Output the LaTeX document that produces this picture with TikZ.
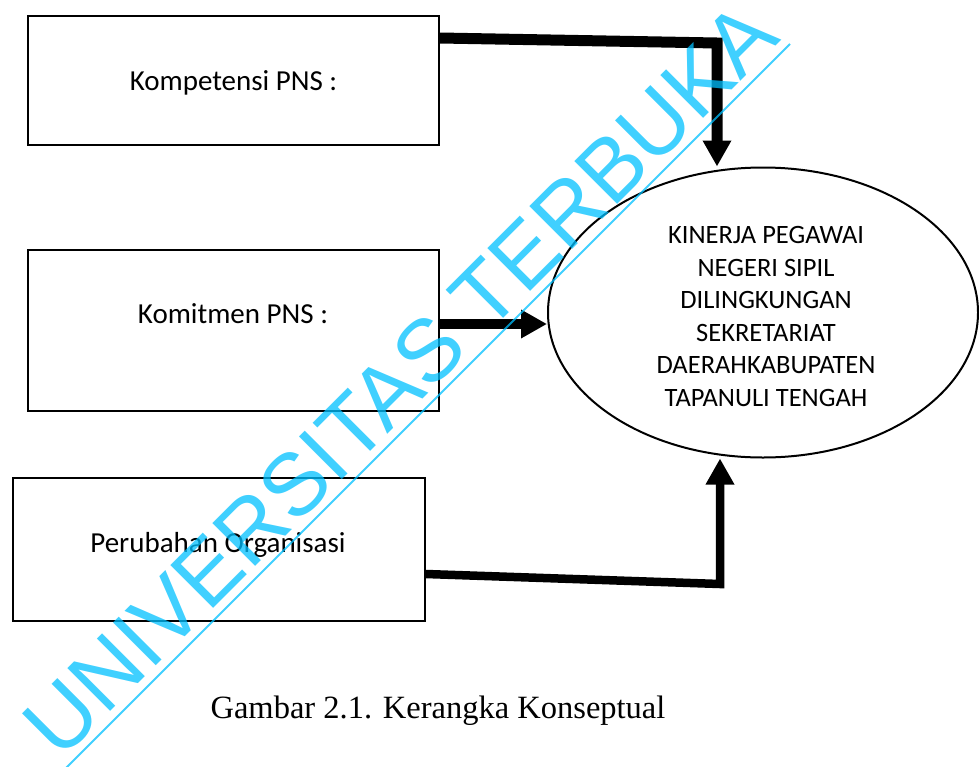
\documentclass[tikz,border=0pt]{standalone}
\usepackage{fontspec}
\setmainfont{Liberation Serif}
\newfontfamily\carlito{Carlito}
\newfontfamily\wmfont{Liberation Sans}
\usetikzlibrary{arrows.meta,shapes.geometric}
\definecolor{wmblue}{RGB}{0,192,255}
\begin{document}
\begin{tikzpicture}[x=1pt,y=-1pt,
  boxnode/.style={draw, line width=2pt, rectangle, inner sep=0pt},
  boxtext/.style={font=\carlito\fontsize{29}{35}\selectfont, anchor=base, inner sep=0pt},
  conn/.style={line width=10pt, line join=miter, -{Triangle[length=26pt,width=27pt]}},
  wmtext/.style={font=\wmfont\fontsize{88}{100}\selectfont, text=wmblue, text opacity=0.75, inner sep=0pt},
  wmline/.style={draw=wmblue, draw opacity=0.75, line width=2pt}]
\useasboundingbox (0,0) rectangle (979,766);

% boxes
\node[boxnode, minimum width=411pt, minimum height=129pt] (box1) at (233.5,80.5) {};
\node[boxnode, minimum width=411pt, minimum height=161pt] (box2) at (233.5,330.5) {};
\node[boxnode, minimum width=412.5pt, minimum height=143pt] (box3) at (218.75,549.5) {};

\node[boxtext] (t1) at (233.5,90) {Kompetensi PNS :};
\node[boxtext] (t2) at (233,323.5) {Komitmen PNS :};
\node[boxtext] (t3) at (218,552) {Perubahan Organisasi};

% ellipse
\node[draw, ellipse, line width=2pt, minimum width=430pt, minimum height=290pt, inner sep=0pt] (ell) at (763,312.5) {};
\node[font=\carlito\fontsize{26.5}{32.6}\selectfont, align=center, inner sep=0pt] (et) at (766,316.5)
  {KINERJA PEGAWAI\\NEGERI SIPIL\\DILINGKUNGAN\\SEKRETARIAT\\DAERAHKABUPATEN\\TAPANULI TENGAH};

% connectors
\coordinate (a0) at ([yshift=-23pt]box1.north east);
\coordinate (c1) at (717,43);
\draw[conn, line width=11pt] (a0) -- (c1) -- (c1 |- ell.north);

\coordinate (m0) at ([yshift=-75pt]box2.north east);
\draw[conn] (m0) -- (m0 -| ell.west);

\coordinate (b0) at ([yshift=-97pt]box3.north east);
\coordinate (c3) at (720,584);
\draw[conn, line width=8.5pt] (b0) -- (c3) -- (c3 |- ell.south);

% caption
\node[font=\fontsize{32.5}{38}\selectfont, anchor=base, inner sep=0pt] (cap) at (438,718) {Gambar 2.1. Kerangka Konseptual};

% watermark
\node[wmtext, rotate=45, anchor=base] (wm) at (421,401) {UNIVERSITAS TERBUKA};
\coordinate (w0) at (66,768);
\coordinate (w1) at (790,44);
\draw[wmline] (w0) -- (w1);
\end{tikzpicture}
\end{document}
